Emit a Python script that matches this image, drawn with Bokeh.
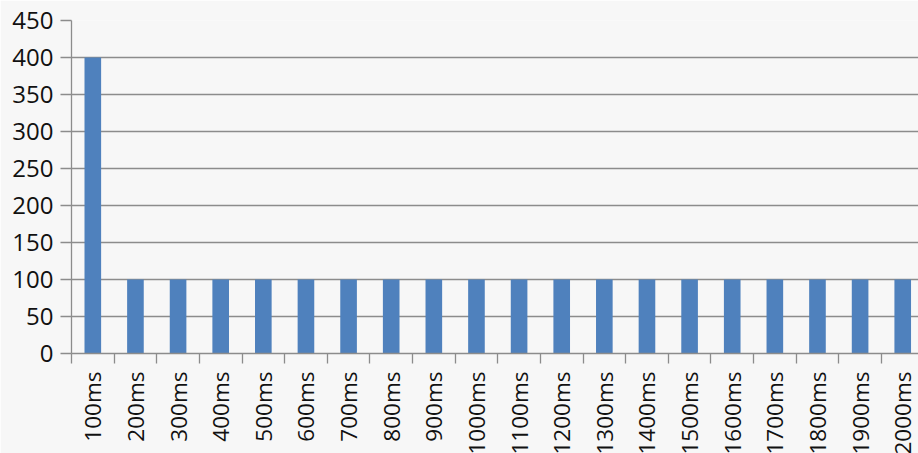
import math
from bokeh.plotting import figure
from bokeh.models import Range1d, LinearAxis, FixedTicker, CustomJSTickFormatter, ColumnDataSource
from bokeh.embed import file_html
from bokeh.resources import INLINE

categories = ["100ms", "200ms", "300ms", "400ms", "500ms", "600ms", "700ms", "800ms", "900ms", "1000ms",
              "1100ms", "1200ms", "1300ms", "1400ms", "1500ms", "1600ms", "1700ms", "1800ms", "1900ms", "2000ms"]
values = [400, 100, 100, 100, 100, 100, 100, 100, 100, 100,
          100, 100, 100, 100, 100, 100, 100, 100, 100, 100]
y_ticks = [0, 50, 100, 150, 200, 250, 300, 350, 400, 450]

BG = "#f7f7f7"
BAR = "#4f81bd"
GRID = "#8c8c8c"
FONT = "Open Sans"
FS = "24px"
XFS = "22.5px"

n = len(categories)
centers = [i + 0.5 for i in range(n)]
src = ColumnDataSource(dict(x=centers, top=values, cat=categories))

p = figure(frame_width=847, frame_height=333, output_backend="svg", toolbar_location=None,
           x_range=Range1d(0, 19.87), y_range=Range1d(0, 450),
           x_axis_type=None, min_border_left=71, min_border_right=0,
           min_border_top=20, min_border_bottom=0,
           background_fill_color=BG, border_fill_color=BG, outline_line_color=None)

p.vbar(x="x", top="top", width=0.39, source=src, fill_color=BAR, line_color=None)

p.xgrid.visible = False
p.ygrid.ticker = FixedTicker(ticks=y_ticks)
p.ygrid.grid_line_color = GRID
p.ygrid.grid_line_width = 1.3

ya = p.yaxis[0]
ya.ticker = FixedTicker(ticks=y_ticks)
ya.axis_line_color = GRID
ya.axis_line_width = 1.3
ya.major_tick_line_color = GRID
ya.major_tick_line_width = 1.3
ya.major_tick_out = 11
ya.major_tick_in = 0
ya.minor_tick_line_color = None
ya.major_label_text_font = FONT
ya.major_label_text_font_size = FS
ya.major_label_text_color = "#111111"
ya.major_label_standoff = 7

# boundary ticks axis (no labels)
xa = LinearAxis(ticker=FixedTicker(ticks=list(range(n + 1))),
                formatter=CustomJSTickFormatter(code="return ''"),
                axis_line_color=GRID, axis_line_width=1.3,
                major_tick_line_color=GRID, major_tick_line_width=1.3,
                major_tick_out=10, major_tick_in=0, minor_tick_line_color=None,
                major_label_text_font_size="1px", major_label_standoff=0)
p.add_layout(xa, "below")

# category label axis
overrides = {c: lab for c, lab in zip(centers, categories)}
xl = LinearAxis(ticker=FixedTicker(ticks=centers), major_label_overrides=overrides,
                axis_line_color=None, major_tick_line_color=None, minor_tick_line_color=None,
                major_label_orientation=math.pi / 2, major_label_text_font=FONT,
                major_label_text_font_size=XFS, major_label_text_color="#111111",
                major_label_standoff=2)
p.add_layout(xl, "below")

html = file_html(p, INLINE)
html = html.replace("<body>", '<body style="background:%s;overflow:hidden">' % BG, 1)
open("out.html", "w").write(html)
